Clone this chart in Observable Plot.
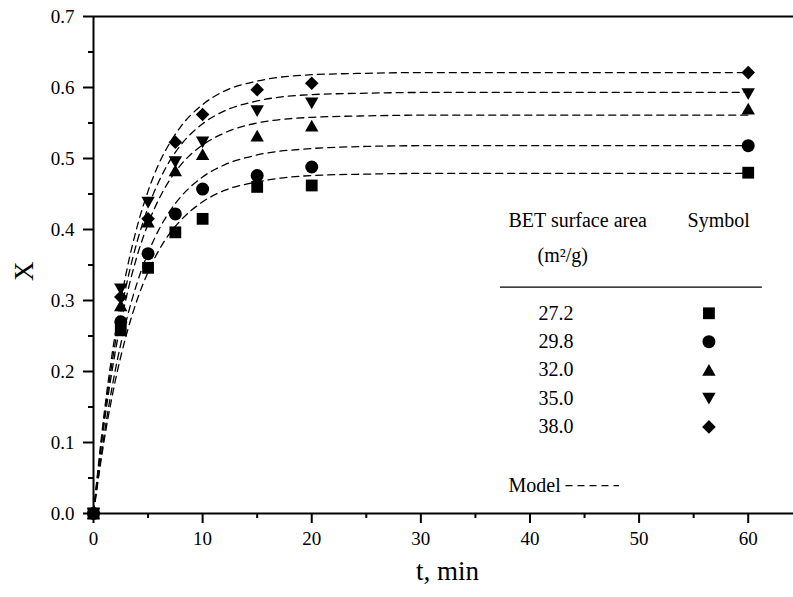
<!DOCTYPE html>
<html>
<head>
<meta charset="utf-8">
<script src="https://cdn.jsdelivr.net/npm/d3@7"></script>
<script src="https://cdn.jsdelivr.net/npm/@observablehq/plot@0.6"></script>
<style>
  html, body { margin: 0; padding: 0; background: #fff; }
  #chart svg { display: block; overflow: visible; }
</style>
</head>
<body>
<div id="chart"></div>
<script>
// ---- measured data ----
const t = [0, 2.5, 5, 7.5, 10, 15, 20, 60];
const x272 = [0, 0.258, 0.346, 0.396, 0.415, 0.460, 0.462, 0.480];
const x298 = [0, 0.270, 0.366, 0.422, 0.457, 0.476, 0.488, 0.518];
const x320 = [0, 0.293, 0.411, 0.483, 0.506, 0.532, 0.546, 0.570];
const x350 = [0, 0.316, 0.438, 0.495, 0.523, 0.567, 0.578, 0.591];
const x380 = [0, 0.305, 0.415, 0.523, 0.562, 0.597, 0.606, 0.621];

// ---- model curves ----
const tm   = [0, 1, 2, 3, 4, 5, 6, 7, 8, 10, 12, 15, 20, 25, 30, 40, 60];
const m272 = [0, 0.105, 0.187, 0.251, 0.301, 0.340, 0.371, 0.395, 0.413, 0.439, 0.455, 0.467, 0.476, 0.478, 0.479, 0.479, 0.479];
const m298 = [0, 0.113, 0.202, 0.271, 0.325, 0.367, 0.400, 0.426, 0.446, 0.474, 0.491, 0.505, 0.514, 0.517, 0.518, 0.518, 0.518];
const m320 = [0, 0.129, 0.228, 0.304, 0.363, 0.408, 0.443, 0.470, 0.491, 0.519, 0.536, 0.550, 0.558, 0.560, 0.561, 0.561, 0.561];
const m350 = [0, 0.136, 0.241, 0.321, 0.383, 0.431, 0.468, 0.497, 0.519, 0.549, 0.567, 0.581, 0.590, 0.592, 0.593, 0.593, 0.593];
const m380 = [0, 0.144, 0.254, 0.339, 0.404, 0.454, 0.493, 0.522, 0.545, 0.576, 0.595, 0.609, 0.618, 0.620, 0.621, 0.621, 0.621];

const betLabels = ["27.2", "29.8", "32.0", "35.0", "38.0"];
const xMajor = [0, 10, 20, 30, 40, 50, 60];
const xMinor = [5, 15, 25, 35, 45, 55];
const yMajor = [0, 0.1, 0.2, 0.3, 0.4, 0.5, 0.6, 0.7];
const yMinor = [0.05, 0.15, 0.25, 0.35, 0.45, 0.55, 0.65];

// ---- symbols ----
const k = s => Math.sqrt(s / Math.PI) / 6;
const symSquare = {draw(c, s) { const h = 5.9 * k(s); c.rect(-h, -h, 2 * h, 2 * h); }};
const symCircle = {draw(c, s) { const r = 6.5 * k(s); c.moveTo(r, 0); c.arc(0, 0, r, 0, 2 * Math.PI); }};
const symTriUp = {draw(c, s) { const f = k(s); c.moveTo(0, -6.1 * f); c.lineTo(6.7 * f, 5.7 * f); c.lineTo(-6.7 * f, 5.7 * f); c.closePath(); }};
const symTriDown = {draw(c, s) { const f = k(s); c.moveTo(0, 6.1 * f); c.lineTo(6.7 * f, -5.7 * f); c.lineTo(-6.7 * f, -5.7 * f); c.closePath(); }};
const symDiamond = {draw(c, s) { const f = k(s); c.moveTo(0, -6.8 * f); c.lineTo(6.8 * f, 0); c.lineTo(0, 6.8 * f); c.lineTo(-6.8 * f, 0); c.closePath(); }};

const seriesVals = [x272, x298, x320, x350, x380];
const modelVals = [m272, m298, m320, m350, m380];
const symbols = [symSquare, symCircle, symTriUp, symTriDown, symDiamond];

const points = [];
seriesVals.forEach((vals, i) => vals.forEach((v, j) => points.push({t: t[j], X: v, s: i})));
const model = [];
modelVals.forEach((vals, i) => vals.forEach((v, j) => model.push({t: tm[j], X: v, s: i})));

const legendRows = betLabels.map((lab, i) => ({lab, s: i, y: 0.282 - 0.04 * i}));

const FONT = '"Liberation Serif", "Times New Roman", "DejaVu Serif", serif';
const dash = "7,5";

const marks = [
  // model curves
  Plot.line(model, {x: "t", y: "X", z: "s", curve: "monotone-x", stroke: "#000", strokeWidth: 1.3, strokeDasharray: dash}),
  // data points
  ...symbols.map((sym, i) => Plot.dot(points.filter(d => d.s === i), {x: "t", y: "X", r: 6, symbol: sym, fill: "#000", stroke: "none"})),
  // frame lines
  Plot.ruleY([0, 0.7], {stroke: "#000", strokeWidth: 2}),
  Plot.ruleX([0], {stroke: "#000", strokeWidth: 2}),
  // axes
  Plot.axisX(xMajor, {tickSize: 10, tickPadding: 8, tickFormat: d => String(d), fontSize: 19, strokeWidth: 2, label: null}),
  Plot.axisX(xMinor, {tickSize: 5, tickFormat: () => "", strokeWidth: 2, label: null}),
  Plot.axisY(yMajor, {tickSize: 10, tickPadding: 9, tickFormat: d => d.toFixed(1), fontSize: 19, strokeWidth: 2, label: null}),
  Plot.axisY(yMinor, {tickSize: 5, tickFormat: () => "", strokeWidth: 2, label: null}),
  // axis titles
  Plot.text(["X"], {frameAnchor: "left", dx: -69, dy: 16, rotate: -90, fontSize: 27, fill: "#000"}),
  Plot.text(["t, min"], {frameAnchor: "bottom", dx: 4, dy: 66, fontSize: 27, fill: "#000"}),
  // legend block
  Plot.text([{x: 38.03, y: 0.4032, s: "BET surface area"}, {x: 54.44, y: 0.4032, s: "Symbol"}, {x: 40.69, y: 0.354, s: "(m²/g)"}, {x: 38.03, y: 0.0296, s: "Model"}],
    {x: "x", y: "y", text: "s", textAnchor: "start", lineAnchor: "bottom", fontSize: 20, fill: "#000"}),
  Plot.ruleY([0.3187], {x1: 37.3, x2: 61.3, stroke: "#000", strokeWidth: 1.3}),
  Plot.text(legendRows, {x: 40.78, y: "y", text: "lab", textAnchor: "start", lineAnchor: "middle", fontSize: 20, fill: "#000"}),
  ...symbols.map((sym, i) => Plot.dot([legendRows[i]], {x: 56.4, y: "y", r: 6, symbol: sym, fill: "#000", stroke: "none"})),
  Plot.ruleY([0.0394], {x1: 43.3, x2: 48.2, stroke: "#000", strokeWidth: 1.3, strokeDasharray: dash})
];

const chart = Plot.plot({
  width: 793,
  height: 597,
  marginLeft: 93,
  marginRight: 0,
  marginTop: 16,
  marginBottom: 84,
  style: {fontFamily: FONT, fontSize: "19px", background: "#fff", color: "#000"},
  x: {domain: [0, 64.15]},
  y: {domain: [0, 0.7]},
  marks
});
document.getElementById("chart").appendChild(chart);
</script>
</body>
</html>
